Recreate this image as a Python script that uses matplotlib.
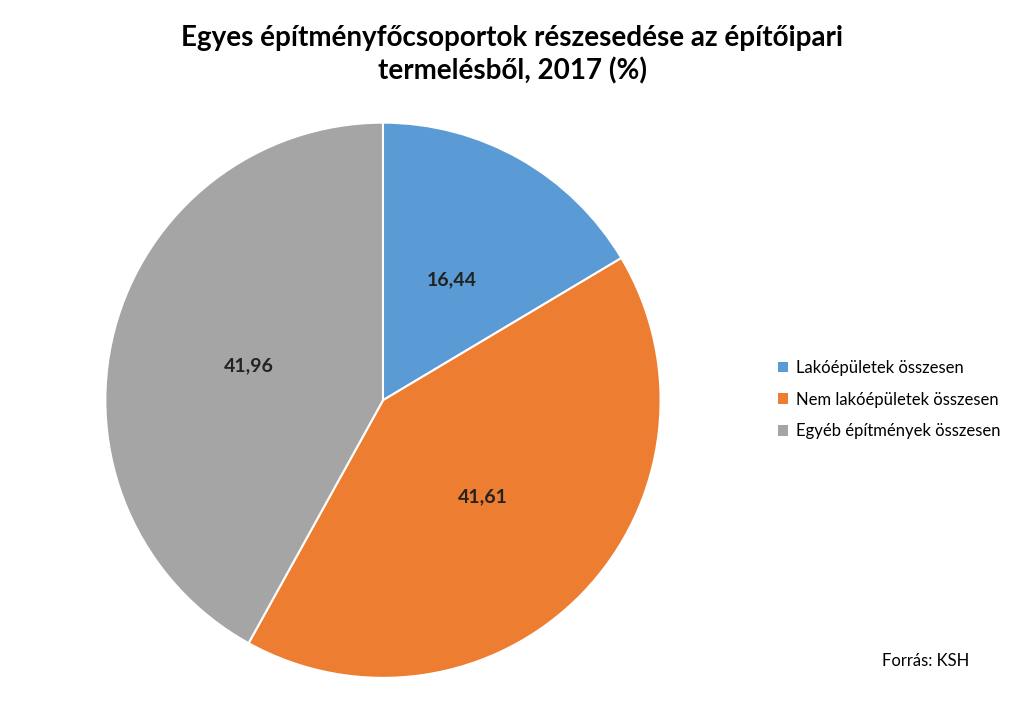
import matplotlib
matplotlib.use("Agg")
import matplotlib.pyplot as plt
from matplotlib.patches import Patch

categories = ["Lakóépületek összesen", "Nem lakóépületek összesen", "Egyéb építmények összesen"]
values = [16.44, 41.61, 41.96]
colors = ["#5B9BD5", "#ED7D31", "#A5A5A5"]

plt.rcParams['font.family'] = ['Lato', 'DejaVu Sans']
fig = plt.figure(figsize=(10.24, 7.01), dpi=100)
ax = fig.add_axes([0.1015, 0.031, 0.545, 0.796])
labels_txt = [f"{v:.2f}".replace(".", ",") for v in values]
wedges, texts = ax.pie(values, colors=colors, startangle=90, counterclock=False,
                       labels=labels_txt, labeldistance=0.5,
                       wedgeprops=dict(edgecolor="white", linewidth=1.5))
for t in texts:
    t.set_ha("center"); t.set_va("center")
    t.set_fontsize(14); t.set_fontweight("bold"); t.set_color("#222222")
ax.set_xlim(-1.005, 1.005)
ax.set_ylim(-1.005, 1.005)
ax.set_aspect("equal")

fig.text(0.5, 0.965, "Egyes építményfőcsoportok részesedése az építőipari\ntermelésből, 2017 (%)",
         ha="center", va="top", fontsize=20, fontweight="bold", linespacing=1.3)

handles = [Patch(facecolor=c, edgecolor="none") for c in colors]
fig.legend(handles, categories, loc="center left", bbox_to_anchor=(0.745, 0.43),
           frameon=False, fontsize=12, handlelength=0.6, handleheight=0.6,
           labelspacing=0.95, handletextpad=0.5)
fig.text(0.947, 0.057, "Forrás: KSH", ha="right", va="center", fontsize=12)
fig.savefig("out.png", dpi=100)
